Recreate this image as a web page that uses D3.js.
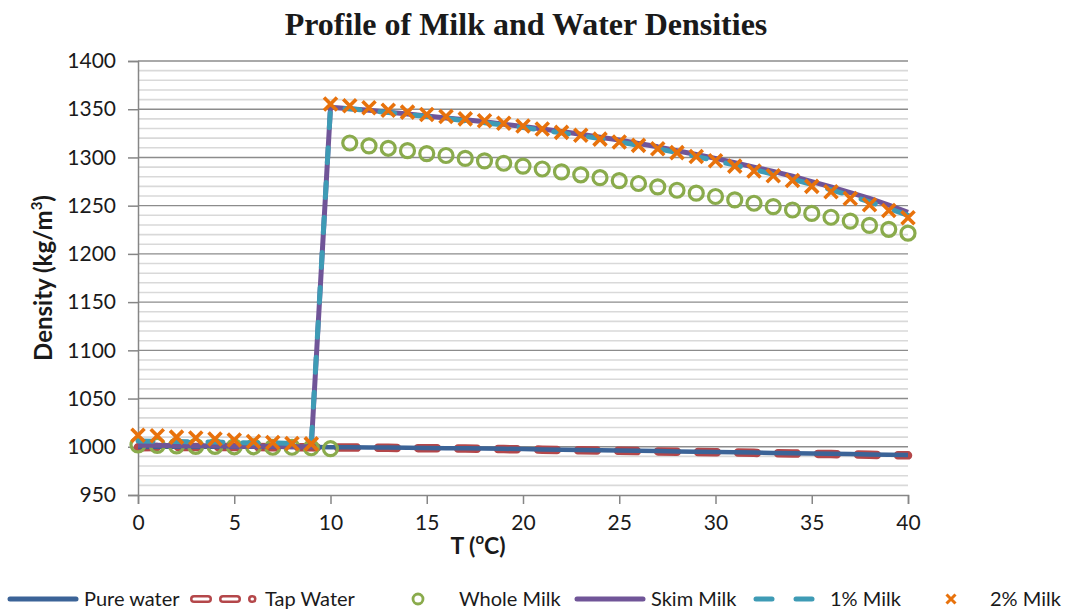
<!DOCTYPE html>
<html>
<head>
<meta charset="utf-8">
<script src="https://cdn.jsdelivr.net/npm/d3@7/dist/d3.min.js"></script>
<style>
  html, body { margin: 0; padding: 0; background: #fff; }
  svg { display: block; }
  text { font-family: Lato, "Open Sans", sans-serif; fill: #1a1a1a; }
</style>
</head>
<body>
<svg id="chart" width="1065" height="610"></svg>
<script>
// Temperature (°C)
const temps = [0,1,2,3,4,5,6,7,8,9,10,11,12,13,14,15,16,17,18,19,20,
               21,22,23,24,25,26,27,28,29,30,31,32,33,34,35,36,37,38,39,40];

// Densities (kg/m³) at each temperature
const pureWater = [999.8,999.9,999.9,1000,1000,1000,999.9,999.9,999.8,999.7,999.6,
  999.5,999.3,999.2,999.0,998.8,998.6,998.4,998.1,997.9,997.6,
  997.3,997.0,996.7,996.4,996.1,995.8,995.5,995.2,994.9,994.6,
  994.3,994.0,993.6,993.3,993.0,992.7,992.4,992.0,991.7,991.4];
const tapWater = [999.6,999.7,999.7,999.8,999.8,999.8,999.7,999.6,999.5,999.4,999.3,
  999.2,999.0,998.9,998.7,998.5,998.3,998.1,997.8,997.6,997.3,
  997.0,996.7,996.4,996.1,995.8,995.5,995.2,994.9,994.6,994.3,
  994.0,993.7,993.3,993.0,992.7,992.4,992.1,991.7,991.4,991.1];
const wholeMilk = [1002,1001.5,1001,1000.5,1000.5,1000,1000,999.5,999.5,999,998,
  1315,1312,1309.5,1307,1304,1302,1299,1296.5,1294,1291,
  1288,1285,1282,1279,1276,1273,1269.5,1266,1263,1259.5,
  1256,1252.5,1249,1245.5,1242,1238,1234,1229.5,1225.5,1221.5];
const skimMilk = [1001.5,1001.5,1001,1001,1001,1000.5,1000.5,1000.5,1000,1000,1352,
  1350.5,1349,1347,1345,1343,1341,1339,1337,1334.5,1332,
  1329.5,1327,1324,1321,1318,1314.5,1311,1307,1303,1299,
  1294.5,1290,1285.5,1280.5,1275,1269.5,1263.5,1257.5,1250.5,1243];
const milk1 = [1006,1005.5,1005.5,1005,1005,1004.5,1004,1004,1003.5,1003,1352,
  1350.5,1348.5,1346.5,1344.5,1342.5,1340.5,1338,1336,1333.5,1331,
  1328.5,1325.5,1322.5,1319.5,1316,1312.5,1309,1305,1301,1296.5,
  1292,1287.5,1282.5,1277.5,1272,1266.5,1260.5,1254,1247,1240];
const milk2 = [1012,1011.5,1010,1009,1008,1007,1005.5,1004.5,1003.5,1003,1355.5,
  1353.5,1351.5,1349,1347,1344.5,1342.5,1340,1338,1335.5,1332.5,
  1329.5,1326,1323,1319,1316,1312.5,1309,1305,1301,1296.5,
  1291,1286,1281,1276,1270,1264.5,1257.5,1251,1245,1237.5];

const yTicks = [950,1000,1050,1100,1150,1200,1250,1300,1350,1400];
const xTicks = [0,5,10,15,20,25,30,35,40];
const seriesNames = ["Pure water","Tap Water","Whole Milk","Skim Milk","1% Milk","2% Milk"];

const colors = {
  pure: "#3b6397", tap: "#b4474a", whole: "#8aab4c",
  skim: "#705598", m1: "#3e9bb5", m2: "#e8720c"
};

const svg = d3.select("#chart");
svg.append("rect").attr("width", 1065).attr("height", 610).attr("fill", "#fff");

const plot = { left: 138, right: 908, top: 61, bottom: 495 };
const x = d3.scaleLinear().domain([0, 40]).range([plot.left, plot.right]);
const y = d3.scaleLinear().domain([950, 1400]).range([plot.bottom, plot.top]);

// gridlines: minor every 10, major every 50
const minor = d3.range(960, 1400, 10).filter(v => v % 50 !== 0);
svg.append("g").selectAll("line").data(minor).join("line")
  .attr("x1", plot.left).attr("x2", plot.right)
  .attr("y1", d => y(d)).attr("y2", d => y(d))
  .attr("stroke", "#d9d9d9").attr("stroke-width", 1.6);
svg.append("g").selectAll("line").data(yTicks.filter(v => v > 950)).join("line")
  .attr("x1", plot.left).attr("x2", plot.right)
  .attr("y1", d => y(d)).attr("y2", d => y(d))
  .attr("stroke", "#8c8c8c").attr("stroke-width", 1.4);

// axes
const yAxis = d3.axisLeft(y).tickValues(yTicks).tickFormat(d3.format("d")).tickSize(10).tickPadding(12);
const gy = svg.append("g").attr("transform", `translate(${plot.left},0)`).call(yAxis);
const xAxis = d3.axisBottom(x).tickValues(xTicks).tickFormat(d3.format("d")).tickSize(9).tickPadding(11);
const gx = svg.append("g").attr("transform", `translate(0,${plot.bottom})`).call(xAxis);
[gy, gx].forEach(g => {
  g.select(".domain").attr("stroke", "#868686").attr("stroke-width", 1.5);
  g.selectAll(".tick line").attr("stroke", "#868686").attr("stroke-width", 1.5);
  g.selectAll(".tick text").attr("font-family", "Lato, sans-serif")
    .attr("font-size", 21).attr("fill", "#1a1a1a");
});

const pts = vals => temps.map((t, i) => [t, vals[i]]);
const line = d3.line().x(d => x(d[0])).y(d => y(d[1]));

// Tap water: red hollow dashes under the pure water line
svg.append("path").attr("d", line(pts(tapWater)))
  .attr("fill", "none").attr("stroke", colors.tap).attr("stroke-width", 8.5)
  .attr("stroke-linecap", "round").attr("stroke-dasharray", "19,21");
svg.append("path").attr("d", line(pts(pureWater)))
  .attr("fill", "none").attr("stroke", colors.pure).attr("stroke-width", 4.5);

// Whole milk markers
svg.append("g").selectAll("circle").data(pts(wholeMilk)).join("circle")
  .attr("cx", d => x(d[0])).attr("cy", d => y(d[1])).attr("r", 7)
  .attr("fill", "none").attr("stroke", colors.whole).attr("stroke-width", 3.2);

// Skim milk and 1% milk lines
svg.append("path").attr("d", line(pts(skimMilk)))
  .attr("fill", "none").attr("stroke", colors.skim).attr("stroke-width", 5)
  .attr("stroke-linejoin", "round");
svg.append("path").attr("d", line(pts(milk1)))
  .attr("fill", "none").attr("stroke", colors.m1).attr("stroke-width", 5)
  .attr("stroke-linecap", "round").attr("stroke-dasharray", "15,20");

// 2% milk cross markers
const cross = (g, cx, cy, s, w) => {
  g.append("path")
    .attr("d", `M${cx - s},${cy - s}L${cx + s},${cy + s}M${cx - s},${cy + s}L${cx + s},${cy - s}`)
    .attr("stroke", colors.m2).attr("stroke-width", w).attr("fill", "none");
};
const gX = svg.append("g");
pts(milk2).forEach(d => cross(gX, x(d[0]), y(d[1]), 6.5, 3.6));

// title
svg.append("text").attr("x", 526).attr("y", 35).attr("text-anchor", "middle")
  .style("font-family", '"Liberation Serif", "Times New Roman", serif')
  .attr("font-weight", "bold").attr("font-size", 32).attr("fill", "#000")
  .text("Profile of Milk and Water Densities");

// y axis title
const yt = svg.append("text")
  .attr("transform", "translate(52,278) rotate(-90)")
  .attr("text-anchor", "middle").attr("font-weight", "bold").attr("font-size", 24);
yt.append("tspan").text("Density (kg/m");
yt.append("tspan").attr("font-size", 15).attr("dy", -10).text("3");
yt.append("tspan").attr("dy", 10).text(")");

// x axis title
const xt = svg.append("text").attr("x", 478).attr("y", 554)
  .attr("text-anchor", "middle").attr("font-weight", "bold").attr("font-size", 23);
xt.append("tspan").text("T (");
xt.append("tspan").attr("font-size", 15).attr("dy", -10).text("o");
xt.append("tspan").attr("dy", 10).text("C)");

// legend
const legY = 599;
const leg = svg.append("g");
const legendItems = [
  { name: seriesNames[0], x0: 8, tx: 84 },
  { name: seriesNames[1], x0: 190, tx: 265 },
  { name: seriesNames[2], x0: 383, tx: 459 },
  { name: seriesNames[3], x0: 575, tx: 651 },
  { name: seriesNames[4], x0: 753, tx: 830 },
  { name: seriesNames[5], x0: 916, tx: 990 }
];
const L = legendItems;
leg.append("line").attr("x1", L[0].x0 + 2).attr("x2", L[0].x0 + 68).attr("y1", legY).attr("y2", legY)
  .attr("stroke", colors.pure).attr("stroke-width", 5).attr("stroke-linecap", "round");
// tap water hollow dashes
[[L[1].x0 + 4, L[1].x0 + 18], [L[1].x0 + 33, L[1].x0 + 47], [L[1].x0 + 62, L[1].x0 + 62.5]].forEach(s => {
  leg.append("line").attr("x1", s[0]).attr("x2", s[1]).attr("y1", legY).attr("y2", legY)
    .attr("stroke", colors.tap).attr("stroke-width", 8).attr("stroke-linecap", "round");
  leg.append("line").attr("x1", s[0]).attr("x2", s[1]).attr("y1", legY).attr("y2", legY)
    .attr("stroke", "#fff").attr("stroke-width", 3).attr("stroke-linecap", "round");
});
leg.append("circle").attr("cx", L[2].x0 + 35).attr("cy", legY).attr("r", 5)
  .attr("fill", "none").attr("stroke", colors.whole).attr("stroke-width", 2.8);
leg.append("line").attr("x1", L[3].x0 + 2).attr("x2", L[3].x0 + 68).attr("y1", legY).attr("y2", legY)
  .attr("stroke", colors.skim).attr("stroke-width", 5).attr("stroke-linecap", "round");
[[L[4].x0 + 3, L[4].x0 + 19], [L[4].x0 + 43, L[4].x0 + 59]].forEach(s => {
  leg.append("line").attr("x1", s[0]).attr("x2", s[1]).attr("y1", legY).attr("y2", legY)
    .attr("stroke", colors.m1).attr("stroke-width", 5).attr("stroke-linecap", "round");
});
cross(leg, L[5].x0 + 35, legY, 4.5, 3);
leg.selectAll("text").data(legendItems).join("text")
  .attr("x", d => d.tx).attr("y", legY + 7).attr("font-size", 20).text(d => d.name);
</script>
</body>
</html>
